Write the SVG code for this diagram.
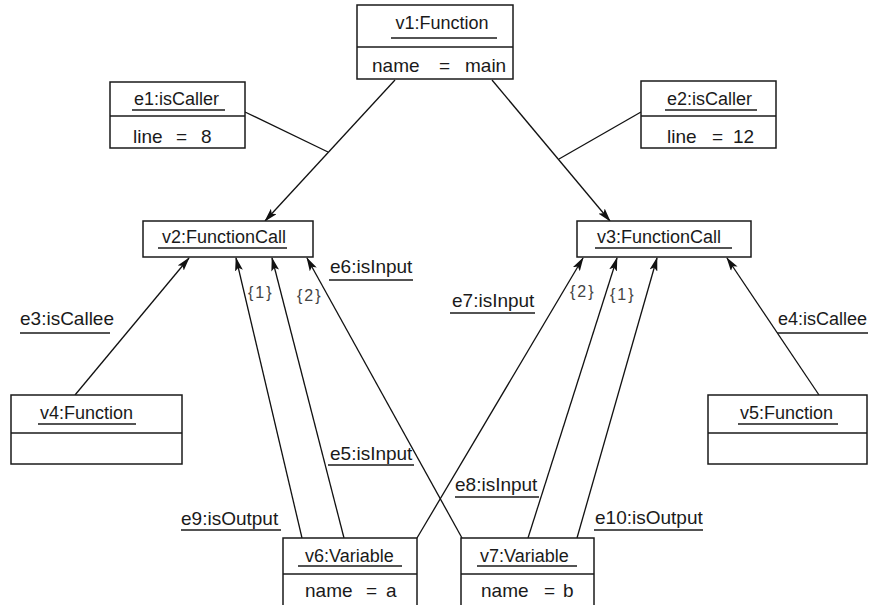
<svg xmlns="http://www.w3.org/2000/svg" width="870" height="605" viewBox="0 0 870 605">
  <defs>
    <marker id="arrow" viewBox="0 0 14 8" refX="13" refY="4" markerWidth="14" markerHeight="8" markerUnits="userSpaceOnUse" orient="auto">
      <path d="M0,0 L14,4 L0,8 L3,4 z" fill="#111"/>
    </marker>
    <style>
      .box { fill: #fff; stroke: #1a1a1a; stroke-width: 1.5; }
      .sep { stroke: #1a1a1a; stroke-width: 1.5; }
      .lbl { font-family: "Liberation Sans", Arial, sans-serif; font-size: 18px; fill: #1a1a1a; }
      .big { font-size: 19px; }
      .ul { stroke: #1a1a1a; stroke-width: 1.4; }
      .edge { stroke: #111; stroke-width: 1.3; fill: none; }
      .arr { marker-end: url(#arrow); }
      .ord { font-family: "Liberation Sans", Arial, sans-serif; font-size: 16px; fill: #444; letter-spacing: 2px; }
    </style>
  </defs>
  <rect width="870" height="605" fill="#fff"/>

  <!-- connectors -->
  <g id="connectors">
    <line class="edge arr" x1="395" y1="80" x2="265" y2="221"/>
    <line class="edge arr" x1="492" y1="80" x2="610" y2="221"/>
    <line class="edge" x1="245" y1="112" x2="328" y2="152"/>
    <line class="edge" x1="641" y1="112" x2="559" y2="159"/>
    <line class="edge arr" x1="75" y1="395" x2="189" y2="258"/>
    <line class="edge arr" x1="819" y1="395" x2="727" y2="258"/>
    <line class="edge arr" x1="302" y1="538" x2="236" y2="258"/>
    <line class="edge arr" x1="344" y1="538" x2="272" y2="258"/>
    <line class="edge arr" x1="417" y1="538" x2="583" y2="258"/>
    <line class="edge arr" x1="462" y1="538" x2="307" y2="258"/>
    <line class="edge arr" x1="528" y1="538" x2="617" y2="258"/>
    <line class="edge arr" x1="577" y1="538" x2="657" y2="258"/>

    <!-- edge labels -->
    <text class="lbl big" x="20" y="325">e3:isCallee</text>
    <line class="ul" x1="20" y1="333" x2="110" y2="333"/>
    <text class="lbl" x="778" y="325">e4:isCallee</text>
    <line class="ul" x1="777" y1="333" x2="868" y2="333"/>
    <text class="lbl big" x="330" y="273">e6:isInput</text>
    <line class="ul" x1="329" y1="280" x2="413" y2="280"/>
    <text class="lbl big" x="452" y="307">e7:isInput</text>
    <line class="ul" x1="450" y1="313" x2="535" y2="313"/>
    <text class="lbl big" x="330" y="460">e5:isInput</text>
    <line class="ul" x1="328" y1="465" x2="414" y2="465"/>
    <text class="lbl big" x="455" y="491">e8:isInput</text>
    <line class="ul" x1="455" y1="497" x2="539" y2="497"/>
    <text class="lbl big" x="181" y="525">e9:isOutput</text>
    <line class="ul" x1="181" y1="530" x2="281" y2="530"/>
    <text class="lbl big" x="595" y="524">e10:isOutput</text>
    <line class="ul" x1="594" y1="530" x2="703" y2="530"/>

    <!-- argument order -->
    <text class="ord" x="248" y="298">{1}</text>
    <text class="ord" x="297" y="301">{2}</text>
    <text class="ord" x="570" y="297">{2}</text>
    <text class="ord" x="610" y="300">{1}</text>
  </g>

  <g id="v1">
    <rect class="box" x="357" y="5" width="156" height="74"/>
    <line class="sep" x1="357" y1="47" x2="513" y2="47"/>
    <text class="lbl" x="442" y="29" text-anchor="middle">v1:Function</text>
    <line class="ul" x1="391" y1="38" x2="497" y2="38"/>
    <text class="lbl big" y="72"><tspan x="372">name</tspan><tspan x="439">=</tspan><tspan x="465">main</tspan></text>
  </g>

  <g id="e1">
    <rect class="box" x="110" y="82" width="135" height="66"/>
    <line class="sep" x1="110" y1="116" x2="245" y2="116"/>
    <text class="lbl" x="134" y="105">e1:isCaller</text>
    <line class="ul" x1="132" y1="110" x2="225" y2="110"/>
    <text class="lbl big" y="143"><tspan x="133">line</tspan><tspan x="176">=</tspan><tspan x="201">8</tspan></text>
  </g>

  <g id="e2">
    <rect class="box" x="641" y="81" width="135" height="67"/>
    <line class="sep" x1="641" y1="116" x2="776" y2="116"/>
    <text class="lbl" x="667" y="105">e2:isCaller</text>
    <line class="ul" x1="665" y1="110" x2="757" y2="110"/>
    <text class="lbl big" y="143"><tspan x="667">line</tspan><tspan x="712">=</tspan><tspan x="733">12</tspan></text>
  </g>

  <g id="v2">
    <rect class="box" x="143" y="221" width="170" height="36"/>
    <text class="lbl" x="162" y="243">v2:FunctionCall</text>
    <line class="ul" x1="158" y1="248" x2="287" y2="248"/>
  </g>

  <g id="v3">
    <rect class="box" x="577" y="221" width="174" height="36"/>
    <text class="lbl" x="597" y="243">v3:FunctionCall</text>
    <line class="ul" x1="595" y1="248" x2="732" y2="248"/>
  </g>

  <g id="v4">
    <rect class="box" x="11" y="395" width="171" height="69"/>
    <line class="sep" x1="11" y1="433" x2="182" y2="433"/>
    <text class="lbl" x="40" y="419">v4:Function</text>
    <line class="ul" x1="38" y1="424" x2="136" y2="424"/>
  </g>

  <g id="v5">
    <rect class="box" x="708" y="395" width="159" height="69"/>
    <line class="sep" x1="708" y1="433" x2="867" y2="433"/>
    <text class="lbl" x="740" y="419">v5:Function</text>
    <line class="ul" x1="738" y1="424" x2="838" y2="424"/>
  </g>

  <g id="v6">
    <rect class="box" x="283" y="538" width="134" height="72"/>
    <line class="sep" x1="283" y1="574" x2="417" y2="574"/>
    <text class="lbl" x="305" y="562">v6:Variable</text>
    <line class="ul" x1="298" y1="566" x2="402" y2="566"/>
    <text class="lbl big" y="597"><tspan x="305">name</tspan><tspan x="366">=</tspan><tspan x="386">a</tspan></text>
  </g>

  <g id="v7">
    <rect class="box" x="461" y="538" width="133" height="72"/>
    <line class="sep" x1="461" y1="574" x2="594" y2="574"/>
    <text class="lbl" x="480" y="562">v7:Variable</text>
    <line class="ul" x1="477" y1="566" x2="577" y2="566"/>
    <text class="lbl big" y="597"><tspan x="481">name</tspan><tspan x="544">=</tspan><tspan x="563">b</tspan></text>
  </g>
</svg>
